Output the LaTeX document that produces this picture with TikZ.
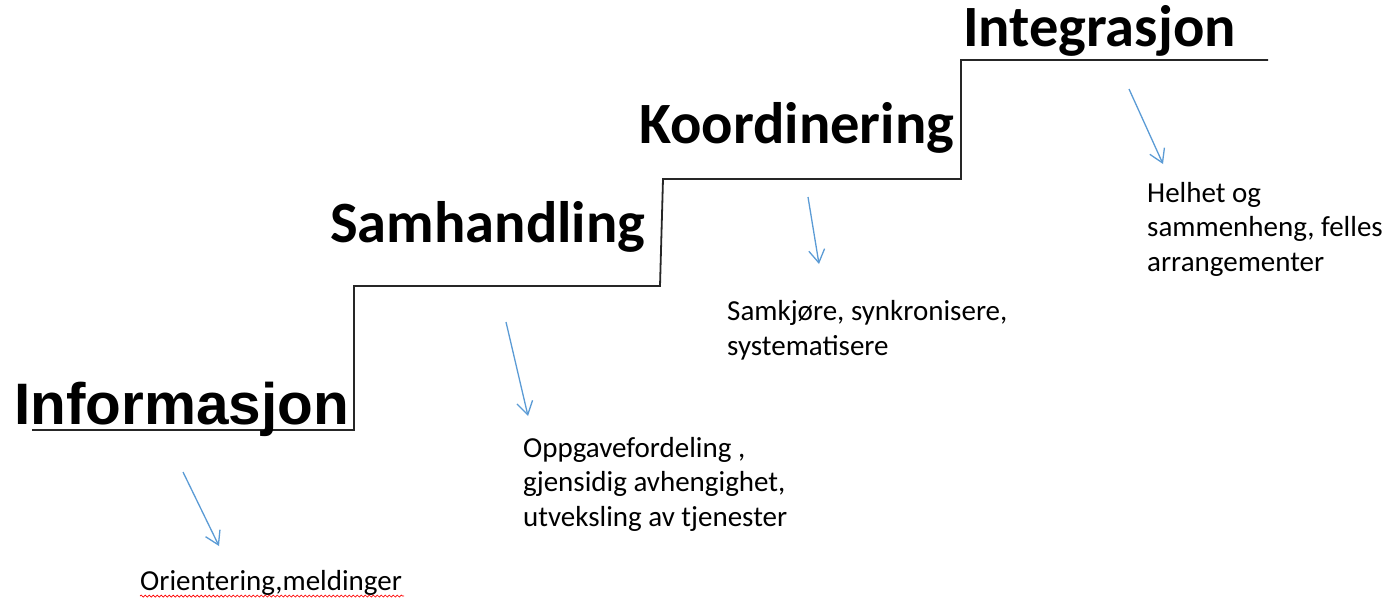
\documentclass[tikz,border=0pt]{standalone}
\usepackage{fontspec}
\setmainfont{Carlito}
\newfontfamily\arialfont{Liberation Sans}
\usetikzlibrary{arrows.meta,decorations.pathmorphing}
\definecolor{stairc}{HTML}{262626}
\definecolor{arrowc}{HTML}{5B9BD5}
\tikzset{
  stairline/.style={draw=stairc,line width=1.8pt},
  heading/.style={inner sep=0pt,anchor=base west,font=\fontsize{58.5}{62}\selectfont\bfseries},
  desc/.style={inner sep=0pt,anchor=base west,align=left,font=\fontsize{29}{34.5}\selectfont},
  bluearrow/.style={draw=arrowc,line width=1.3pt,-{Straight Barb[length=13pt,width=16pt,line width=1.3pt]}},
  squiggle/.style={draw=red,line width=0.7pt,decorate,decoration={snake,segment length=4pt,amplitude=1pt}}
}
\begin{document}
\begin{tikzpicture}[x=1pt,y=-1pt]
\useasboundingbox (0,0) rectangle (1397,597);
% staircase
\coordinate (s0) at (32,430);
\coordinate (s1) at (354,430);
\coordinate (s2) at (354,286);
\coordinate (s3) at (660,286);
\coordinate (s4) at (663,179);
\coordinate (s5) at (961,179);
\coordinate (s6) at (961,60);
\coordinate (s7) at (1268,60);
\draw[stairline] (s0) -- (s1) -- (s2) -- (s3) -- (s4) -- (s5) -- (s6) -- (s7);
% headings
\node[heading,font=\fontsize{58.5}{62}\selectfont\arialfont\bfseries] (info) at (14,424) {Informasjon};
\node[heading] (samh) at (330,242) {Samhandling};
\node[heading] (koord) at (639,143) {Koordinering};
\node[heading] (integ) at (963,46) {Integrasjon};
% descriptions (anchored at the baseline of the last line)
\node[desc] (d1) at (140,590) {Orientering,meldinger};
\node[desc] (d2) at (523,526) {Oppgavefordeling ,\\gjensidig avhengighet,\\utveksling av tjenester};
\node[desc] (d3) at (727,355) {Samkjøre, synkronisere,\\systematisere};
\node[desc] (d4) at (1147,271) {Helhet og\\sammenheng, felles\\arrangementer};
% spell-check squiggle
\coordinate (q0) at (140,596);
\coordinate (q1) at (404,596);
\draw[squiggle] (q0) -- (q1);
% arrows
\coordinate (a1s) at (183,472); \coordinate (a1e) at (219,546);
\coordinate (a2s) at (506,322); \coordinate (a2e) at (528,416);
\coordinate (a3s) at (808,197); \coordinate (a3e) at (819,264);
\coordinate (a4s) at (1129,89); \coordinate (a4e) at (1163,164);
\draw[bluearrow] (a1s) -- (a1e);
\draw[bluearrow] (a2s) -- (a2e);
\draw[bluearrow] (a3s) -- (a3e);
\draw[bluearrow] (a4s) -- (a4e);
\end{tikzpicture}
\end{document}
